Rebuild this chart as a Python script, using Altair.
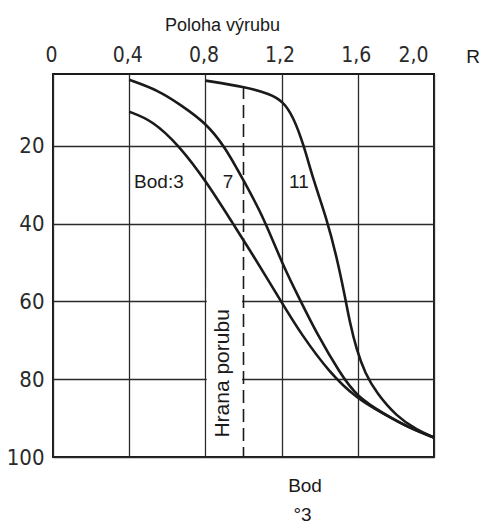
import altair as alt
import pandas as pd

# Poloha výrubu R and the value read for each measuring point (Bod)
r_bod3 = [0.40, 0.52, 0.66, 0.80, 0.955, 1.034, 1.21, 1.30, 1.454, 1.594, 1.734, 1.874, 2.00]
v_bod3 = [11.2, 13.4, 19.8, 28.8, 40.8, 46.8, 61.0, 68.2, 78.5, 84.9, 88.9, 92.6, 95.0]

r_bod7 = [0.40, 0.553, 0.675, 0.80, 0.903, 1.008, 1.104, 1.209, 1.297, 1.384, 1.507, 1.594, 1.734, 1.874, 2.00]
v_bod7 = [3.0, 5.7, 9.6, 14.0, 20.2, 29.6, 38.2, 51.0, 59.6, 68.2, 78.5, 84.4, 88.8, 92.6, 95.0]

r_bod11 = [0.80, 1.008, 1.139, 1.209, 1.261, 1.314, 1.367, 1.436, 1.489, 1.533, 1.559, 1.594, 1.638, 1.699, 1.804, 1.909, 2.00]
v_bod11 = [3.2, 4.8, 6.6, 8.6, 12.5, 19.4, 28.8, 38.6, 48.5, 58.8, 65.6, 72.5, 78.5, 83.6, 89.6, 93.0, 95.0]

x_ticks = [0, 0.4, 0.8, 1.2, 1.6, 2.0]
y_ticks = [20, 40, 60, 80, 100]

# annotations: text, R, value
ann_text = ["Bod:3", "7", "11", "R", "Bod", "°3"]
ann_r = [0.556, 0.919, 1.291, 2.205, 1.323, 1.31]
ann_v = [29.3, 29.3, 29.3, -2.8, 107.5, 115.0]

edge_r = 1.0          # Hrana porubu
edge_top = 4.6
label_r = 0.892
label_v = 78.5

NARROW = "Liberation Sans Narrow, DejaVu Sans Condensed, Roboto Condensed, Liberation Sans"
INK = "#1a1a1a"

rows = []
for name, rs, vs in [("3", r_bod3, v_bod3), ("7", r_bod7, v_bod7), ("11", r_bod11, v_bod11)]:
    for r, v in zip(rs, vs):
        rows.append({"bod": name, "R": r, "v": v})
curves = pd.DataFrame(rows)

x_scale = alt.Scale(domain=[0, 2.0], nice=False, zero=False)
y_scale = alt.Scale(domain=[1.5, 100], nice=False, zero=False, reverse=True)

x_axis = alt.Axis(
    orient="top", values=x_ticks, grid=True, ticks=False, domain=False,
    labelExpr="datum.value == 0 ? '0' : replace(format(datum.value, '.1f'), '.', ',')",
    labelFont=NARROW, labelFontSize=21, labelColor="#2a2a2a",
    labelPadding=9,
    labelAlign={"condition": {"test": "datum.value >= 2", "value": "right"}, "value": "center"},
    labelOffset={"condition": {"test": "datum.value >= 2", "value": -6}, "value": -2},
    title="Poloha výrubu", titleFont="Liberation Sans", titleFontSize=18,
    titleFontWeight="normal", titleColor=INK,
    titleX=169, titleY=-44, titleAlign="center", titleBaseline="alphabetic",
    gridColor="#2a2a2a", gridWidth=1.3, gridOpacity=1,
)
y_axis = alt.Axis(
    values=y_ticks, grid=True, ticks=False, domain=False,
    labelFont=NARROW, labelFontSize=22, labelColor="#2a2a2a",
    labelPadding=9, title=None,
    gridColor="#2a2a2a", gridWidth=1.3, gridOpacity=1,
)

base = alt.Chart(curves)

grid = base.mark_point(opacity=0).encode(
    x=alt.X("R:Q", scale=x_scale, axis=x_axis),
    y=alt.Y("v:Q", scale=y_scale, axis=y_axis),
)

# blank band behind the rotated edge label
mask = alt.Chart(pd.DataFrame({"x": [0.807], "x2": [0.993], "y": [56.5], "y2": [99.6]})).mark_rect(
    color="white"
).encode(x="x:Q", x2="x2:Q", y="y:Q", y2="y2:Q")

edge = alt.Chart(pd.DataFrame({"x": [edge_r], "y": [edge_top], "y2": [100]})).mark_rule(
    color=INK, strokeWidth=1.6, strokeDash=[13, 6]
).encode(x="x:Q", y="y:Q", y2="y2:Q")

edge_label = alt.Chart(pd.DataFrame({"x": [label_r], "y": [label_v], "t": ["Hrana porubu"]})).mark_text(
    angle=270, font="Liberation Sans", fontSize=21, color=INK, baseline="middle", align="center"
).encode(x="x:Q", y="y:Q", text="t:N")

lines = base.mark_line(color=INK, strokeWidth=2.6, interpolate="basis").encode(
    x="R:Q", y="v:Q", detail="bod:N"
)

notes = alt.Chart(pd.DataFrame({"t": ann_text, "x": ann_r, "y": ann_v})).mark_text(
    font="Liberation Sans", fontSize=19, color=INK, baseline="middle", align="center"
).encode(x="x:Q", y="y:Q", text="t:N")

chart = alt.layer(grid, mask, edge, edge_label, lines, notes).properties(
    width=381, height=383,
    background="white",
    autosize=alt.AutoSizeParams(type="none"),
    padding={"left": 53, "top": 74, "right": 47, "bottom": 70},
).configure_view(
    stroke=INK, strokeWidth=2
)

chart.save("out.html", embed_options={"renderer": "svg", "actions": False})
